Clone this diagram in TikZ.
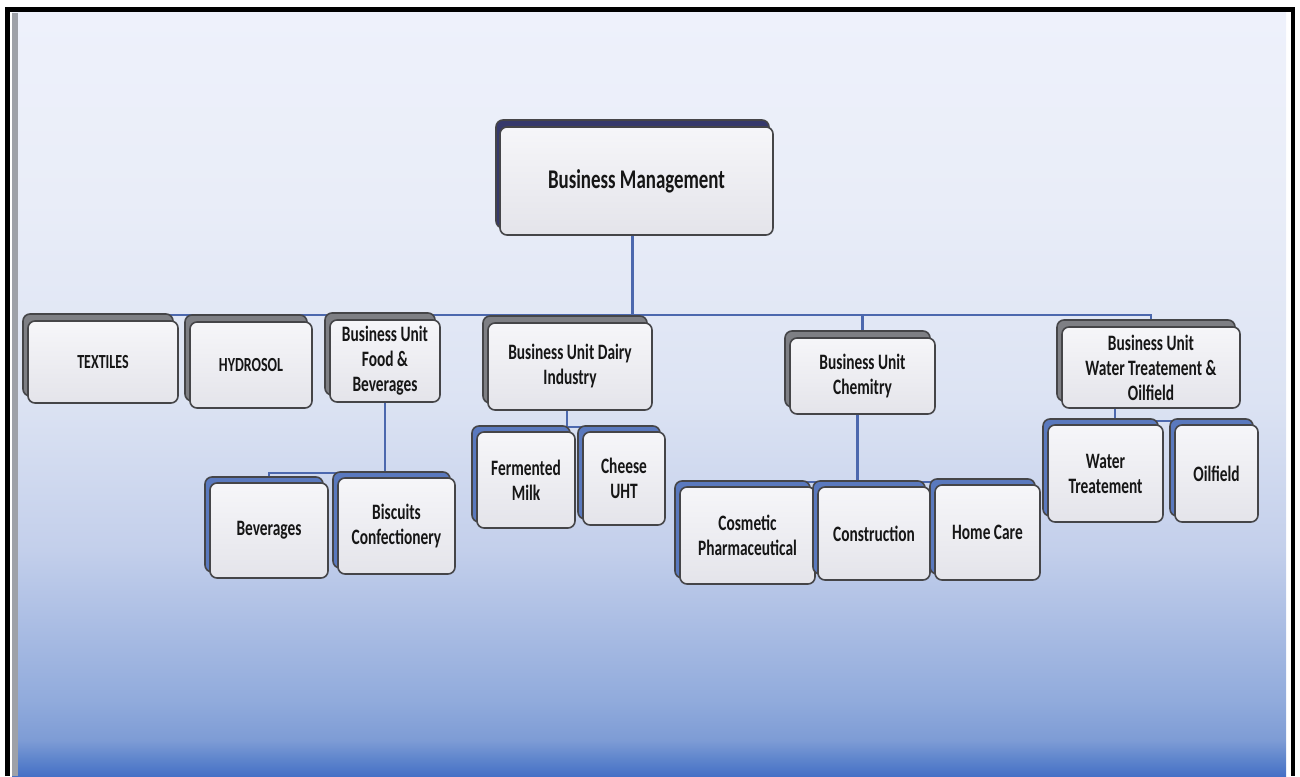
\documentclass[tikz,border=0pt]{standalone}
\usepackage{fontspec}
\setmainfont{Carlito}[FakeStretch=0.7]
\usepackage{xcolor}
\usepackage{tikz}
\usetikzlibrary{shadows,calc}

\definecolor{ink}{HTML}{161616}
\definecolor{cardedge}{HTML}{454548}
\definecolor{cardtop}{HTML}{F6F6F9}
\definecolor{cardbot}{HTML}{E4E4EA}
\definecolor{rootback}{HTML}{36396B}
\definecolor{unitback}{HTML}{7E7F84}
\definecolor{leafback}{HTML}{5A79BE}
\definecolor{linkblue}{HTML}{4C68AE}
\definecolor{stripe}{HTML}{9EA1A8}
\definecolor{pa}{HTML}{4570C6}
\definecolor{pb}{HTML}{5D84CC}
\definecolor{pc}{HTML}{7E9CD5}
\definecolor{pd}{HTML}{91ABDC}
\definecolor{pe}{HTML}{A2B7E1}
\definecolor{pf}{HTML}{C3CFEB}
\definecolor{pg}{HTML}{DCE3F3}
\definecolor{ph}{HTML}{E9EDF8}
\definecolor{pi}{HTML}{EEF1FB}
\pgfdeclareverticalshading{panelshade}{100bp}{color(0bp)=(pa); color(25bp)=(pa); color(26.05bp)=(pb); color(27.36bp)=(pc); color(29.98bp)=(pd); color(33.26bp)=(pe); color(39.8bp)=(pf); color(49.6bp)=(pg); color(62.7bp)=(ph); color(75bp)=(pi); color(100bp)=(pi)}

\pgfdeclarelayer{panel}
\pgfdeclarelayer{links}
\pgfsetlayers{panel,links,main}

\begin{document}
\begin{tikzpicture}[x=1pt, y=-1pt,
  card/.style={draw=cardedge, line width=1.6pt, rounded corners=7pt, top color=cardtop, bottom color=cardbot,
    align=center, inner sep=2pt, text=ink, font=\bfseries\fontsize{22}{25}\selectfont},
  root/.style={card, font=\bfseries\fontsize{27}{30}\selectfont,
    copy shadow={shadow xshift=-4pt, shadow yshift=7pt, fill=rootback, draw=cardedge, line width=1.6pt}},
  unit/.style={card, copy shadow={shadow xshift=-5pt, shadow yshift=7pt, fill=unitback, draw=cardedge, line width=1.6pt}},
  leaf/.style={card, copy shadow={shadow xshift=-5pt, shadow yshift=6pt, fill=leafback, draw=cardedge, line width=1.6pt}},
  link/.style={draw=linkblue, line width=2.4pt}
]
\useasboundingbox (0,0) rectangle (1300,776);

% panel and frame
\begin{pgfonlayer}{panel}
\fill[shading=panelshade] (12,13) rectangle (1286,776);
\fill[stripe] (12,13) rectangle (18,776);
\draw[line width=4.5pt] (7.5,776) |- (1293,9.5) -- (1293,776);
\end{pgfonlayer}

% top
\node[root, minimum width=273pt, minimum height=108pt] (mgmt) at (636.5,181) {Business Management};

% business units
\node[unit, minimum width=150pt, minimum height=82pt, font=\bfseries\fontsize{20}{23}\selectfont] (textiles) at (103,362) {TEXTILES};
\node[unit, minimum width=122pt, minimum height=86pt, font=\bfseries\fontsize{20}{23}\selectfont] (hydrosol) at (251,365) {HYDROSOL};
\node[unit, minimum width=110pt, minimum height=82pt] (food) at (385,361) {Business Unit\\Food \&\\Beverages};
\node[unit, minimum width=164pt, minimum height=87pt] (dairy) at (570,366.5) {Business Unit Dairy\\Industry};
\node[unit, minimum width=145pt, minimum height=76pt] (chem) at (862.5,376) {Business Unit\\Chemitry};
\node[unit, minimum width=178pt, minimum height=81pt] (water) at (1151,367.5) {Business Unit\\Water Treatement \&\\Oilfield};

% products
\node[leaf, minimum width=118pt, minimum height=95pt] (bev) at (269,530.5) {Beverages};
\node[leaf, minimum width=117pt, minimum height=96pt] (biscuits) at (396.5,526) {Biscuits\\Confectionery};
\node[leaf, minimum width=98pt, minimum height=96pt] (milk) at (526,480) {Fermented\\Milk};
\node[leaf, minimum width=82pt, minimum height=93pt] (cheese) at (624,478.5) {Cheese\\UHT};
\node[leaf, minimum width=135pt, minimum height=97pt] (cosmetic) at (747.5,535.5) {Cosmetic\\Pharmaceutical};
\node[leaf, minimum width=112pt, minimum height=93pt] (constr) at (874,533.5) {Construction};
\node[leaf, minimum width=105pt, minimum height=95pt] (home) at (987.5,532.5) {Home Care};
\node[leaf, minimum width=115pt, minimum height=97pt] (wtreat) at (1105.5,473.5) {Water\\Treatement};
\node[leaf, minimum width=83pt, minimum height=97pt] (oil) at (1216.5,473.5) {Oilfield};

% connectors
\begin{pgfonlayer}{links}
\coordinate (bus) at ($(mgmt.south)+(-4,79)$);
\draw[link] ($(mgmt.south)+(-4,0)$) -- (bus);
\foreach \u in {textiles,hydrosol,food,dairy,chem,water}
  \draw[link] (bus) -| (\u.north);
\coordinate (foodbus) at ($(food.south)+(0,70)$);
\draw[link] (food.south) -- (foodbus);
\foreach \u in {bev,biscuits} \draw[link] (foodbus) -| (\u.north);
\coordinate (dairybus) at ($(dairy.south)+(-3,16)$);
\draw[link] ($(dairy.south)+(-3,0)$) -- (dairybus);
\foreach \u in {milk,cheese} \draw[link] (dairybus) -| (\u.north);
\coordinate (chembus) at ($(chem.south)+(-5,67)$);
\draw[link] ($(chem.south)+(-5,0)$) -- (chembus);
\foreach \u in {cosmetic,constr,home} \draw[link] (chembus) -| (\u.north);
\coordinate (waterbus) at ($(water.south)+(-36,12)$);
\draw[link] ($(water.south)+(-36,0)$) -- (waterbus);
\foreach \u in {wtreat,oil} \draw[link] (waterbus) -| (\u.north);
\end{pgfonlayer}
\end{tikzpicture}
\end{document}
